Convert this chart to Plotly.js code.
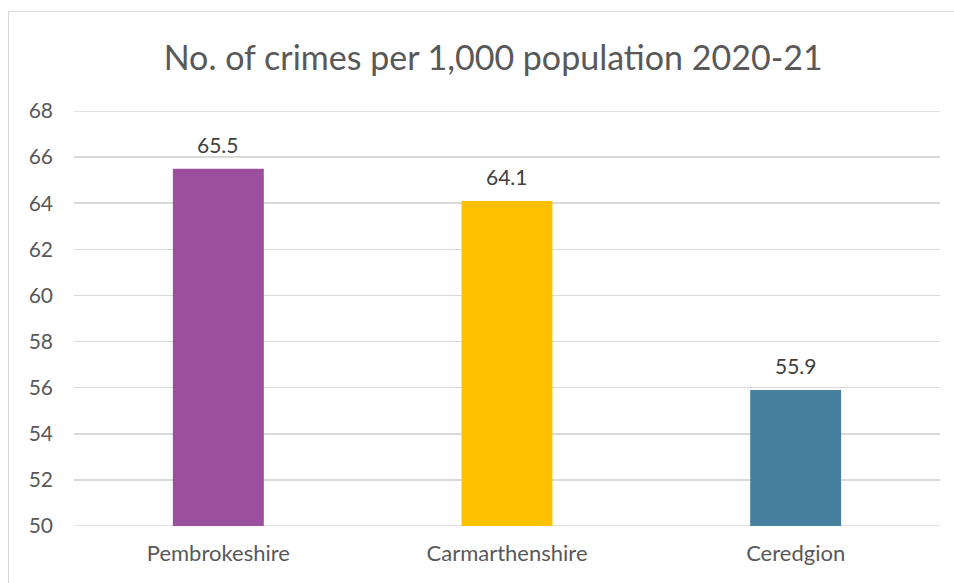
<!DOCTYPE html>
<html>
<head>
<meta charset="utf-8">
<script src="https://cdn.plot.ly/plotly-3.0.1.min.js"></script>
<style>
  html, body { margin: 0; padding: 0; background: #fff; overflow: hidden; }
  #frame { position: absolute; left: 8px; top: 11px; width: 1000px; height: 700px; border: 1px solid #d9d9d9; box-sizing: border-box; pointer-events: none; z-index: 5; }
  #chart { position: absolute; left: 0; top: 0; width: 954px; height: 583px; }
</style>
</head>
<body>
<div id="chart"></div>
<div id="frame"></div>
<script>
const categories = ["Pembrokeshire", "Carmarthenshire", "Ceredgion"];
const values = [65.5, 64.1, 55.9];
const barColors = ["#9B4F9E", "#FFC000", "#47809F"];
const yTicks = [50, 52, 54, 56, 58, 60, 62, 64, 66, 68];
const titleText = "No. of crimes per 1,000 population 2020-21";

const font = "Lato, 'Noto Sans', sans-serif";
const yMin = yTicks[0], yMax = yTicks[yTicks.length - 1];

Plotly.newPlot("chart", [{
  type: "bar",
  x: categories,
  y: values,
  marker: { color: barColors },
  hoverinfo: "none"
}], {
  width: 954, height: 583,
  margin: { l: 74, r: 14, t: 111, b: 57 },
  paper_bgcolor: "#fff", plot_bgcolor: "#fff",
  bargap: 0.685,
  showlegend: false,
  title: { text: titleText, font: { family: font, size: 34, color: "#595959" }, x: 0.517, xanchor: "center", y: 0.9, yanchor: "middle" },
  xaxis: {
    type: "category",
    tickfont: { family: font, size: 22, color: "#595959" },
    showgrid: false, showline: false, ticks: "",
    ticklabelstandoff: 12
  },
  yaxis: {
    range: [yMin, yMax],
    tickvals: yTicks,
    ticktext: yTicks.map(String),
    tickfont: { family: font, size: 21, color: "#595959" },
    showgrid: true, gridcolor: "#d9d9d9", gridwidth: 1.5,
    zeroline: false, showline: false, ticks: "",
    ticklabelstandoff: 20
  },
  shapes: [yMin, yMax].map(v => ({
    type: "line", xref: "paper", yref: "y", x0: 0, x1: 1, y0: v, y1: v,
    line: { color: "#d9d9d9", width: 1.5 }, layer: "below"
  })),
  annotations: categories.map((c, i) => ({
    x: c, y: values[i], xref: "x", yref: "y",
    text: values[i].toFixed(1), showarrow: false,
    yanchor: "bottom", yshift: 10,
    font: { family: font, size: 21, color: "#404040" }
  }))
}, { staticPlot: true });
</script>
</body>
</html>
